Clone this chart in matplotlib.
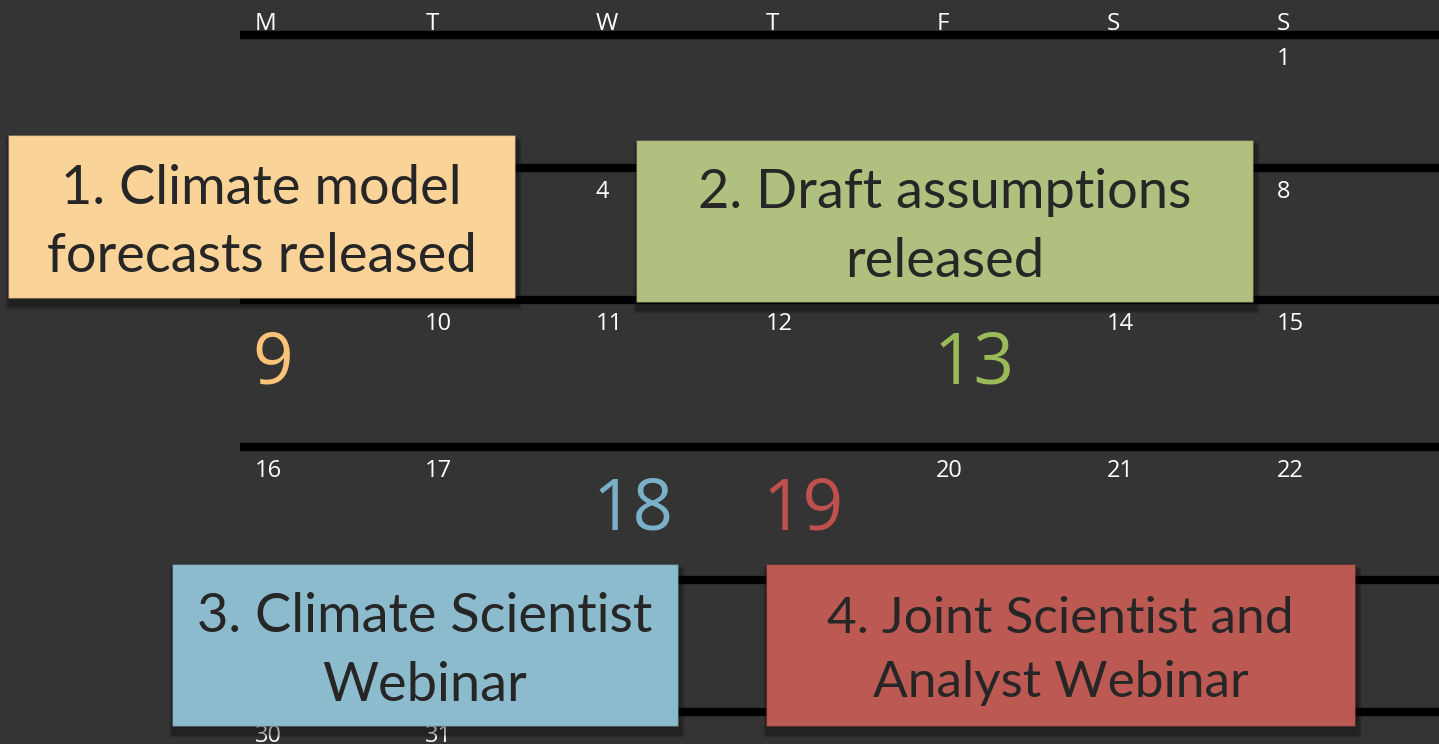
import matplotlib.pyplot as plt
from matplotlib.patches import Rectangle

# calendar content
weekdays = ['M', 'T', 'W', 'T', 'F', 'S', 'S']
first_weekday = 6          # the 1st falls on a Sunday
n_days = 31

event_days = [9, 13, 18, 19]
event_titles = ['1. Climate model\nforecasts released',
                '2. Draft assumptions\nreleased',
                '3. Climate Scientist\nWebinar',
                '4. Joint Scientist and\nAnalyst Webinar']
event_box_colors = ['#FAD398', '#B0C07E', '#8BBBCC', '#BC5952']
event_num_colors = ['#FAC378', '#9BBB59', '#7AB0C8', '#C0504D']

# layout (pixels, figure is 1439 x 744)
W, H = 1439, 744
bg = '#343434'
col_x0, col_w = 255, 170.3
line_y = [35, 168, 300, 447, 580, 712]
# box extents: left, top, right, bottom
boxes = [(8, 135, 515, 298), (636, 140, 1253, 302),
         (172, 564, 678, 726), (766, 564, 1355, 726)]
box_font_sizes = [39, 39, 39, 37]


def covered(x, y):
    return any(l < x < r and t < y < b for l, t, r, b in boxes)


fig = plt.figure(figsize=(W / 100, H / 100), dpi=100, facecolor=bg)
ax = fig.add_axes([0, 0, 1, 1])
ax.set_xlim(0, W)
ax.set_ylim(H, 0)
ax.set_facecolor(bg)
ax.axis('off')

# week separator lines
for y in line_y:
    ax.plot([240, W], [y, y], color='black', lw=6, solid_capstyle='butt', zorder=1)

# weekday header
for c, d in enumerate(weekdays):
    ax.text(col_x0 + c * col_w, line_y[0] - 5, d, color='white', fontsize=17.5,
            family='Open Sans', ha='left', va='baseline', zorder=2)

# day numbers (skip the ones hidden under an event box)
for day in range(1, n_days + 1):
    pos = first_weekday + day - 1
    r, c = pos // 7, pos % 7
    x = col_x0 + c * col_w
    y0 = line_y[r]
    if day in event_days:
        k = event_days.index(day)
        ax.text(x - 3, y0 + 83, str(day), color=event_num_colors[k], fontsize=51,
                family='Open Sans', ha='left', va='baseline', zorder=2)
    elif not covered(x + 5, y0 + 25):
        ax.text(x, y0 + 30, str(day), color='white', fontsize=17,
                family='Open Sans', ha='left', va='baseline', zorder=2)

# event boxes with soft shadow
for (l, t, r_, b), title, col, fs in zip(boxes, event_titles, event_box_colors,
                                         box_font_sizes):
    for i, a in enumerate([0.07, 0.09, 0.11, 0.13]):
        s = 10 - 2 * i
        ax.add_patch(Rectangle((l + 2 - s / 2, t + 7 - s / 2), r_ - l + s, b - t + s,
                               facecolor='black', edgecolor='none', alpha=a, zorder=4))
    ax.add_patch(Rectangle((l, t), r_ - l, b - t, facecolor=col,
                           edgecolor='#00000030', lw=1, zorder=5))
    ax.text((l + r_) / 2, (t + b) / 2 + 6, title, color='#262626', fontsize=fs,
            family='Lato', ha='center', va='center', linespacing=1.5, zorder=6)

fig.savefig('out.png', dpi=100, facecolor=bg)
